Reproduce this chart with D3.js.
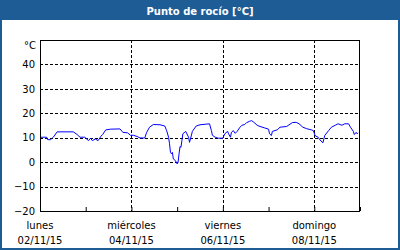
<!DOCTYPE html>
<html>
<head>
<meta charset="utf-8">
<script src="https://cdn.jsdelivr.net/npm/d3@7"></script>
<style>
body { margin: 0; background: #fff; }
text { font-family: "DejaVu Sans", sans-serif; }
</style>
</head>
<body>
<script>
var w = 400;
var h = 250;
var padLeft = 40, padRight = 360, padTop = 40, padBottom = 211;
var blue = "#1e5c95";

// hours after 02/11/15 00:00
var hours = [0, 3.5, 4, 5.5, 7, 9, 17.5, 19.5, 21, 23.5, 25.5, 26.5, 27.5, 29, 30.5, 32, 33, 34.5, 37, 42,
  43.5, 46, 47.5, 49, 51, 52.5, 55, 56, 57.5, 59.5, 63, 65.5, 66.5, 67.5, 68, 68.5, 69, 69.5, 70, 71, 72, 72.5,
  73, 73.5, 74, 74.5, 75, 76.5, 78, 78.5, 79, 80, 82, 84, 89, 90, 90.5, 92, 93.5, 96, 97, 98.5, 99, 100,
  100.5, 101.5, 102.5, 103.5, 105, 106, 107.5, 108.5, 110, 111, 112, 114, 115.5, 118, 120, 120.5, 121.5, 122, 124.5, 126,
  129.5, 132.5, 134.5, 136, 138, 140, 142.5, 143.5, 144.5, 146, 147, 148.5, 149.5, 151.5, 153, 155, 156.5, 158.5, 160, 162,
  163, 164.5, 165, 166, 166.5, 167];
var dewPoint = [10.2, 10.2, 9.2, 9.2, 10.2, 12.4, 12.4, 11.3, 10.2, 10.2, 8.8, 9.8, 8.8, 9.5, 8.8, 10.6, 11.4, 13.2, 13.5, 13.6,
  12.2, 12.0, 11.0, 11.0, 10.5, 9.9, 9.9, 12.2, 14.3, 15.4, 15.3, 14.8, 12.9, 10.2, 7.5, 4.0, 3.4, 4.0, 1.3, 0.7, -0.7, 0,
  3.4, 6.4, 6.1, 8.8, 11.6, 12.6, 10.2, 8.1, 9.5, 12.6, 14.8, 15.3, 15.7, 12.9, 11.0, 10.2, 9.8, 9.8, 11.6, 12.6, 11.6, 10.2,
  12.2, 12.9, 11.8, 12.6, 14.3, 15.1, 15.4, 16.2, 16.7, 17.0, 16.5, 15.1, 14.6, 14.0, 13.5, 11.6, 10.9, 12.6, 13.2, 14.3,
  14.6, 16.2, 16.3, 15.7, 14.3, 13.7, 13.2, 12.9, 10.8, 10.2, 9.1, 7.9, 10.9, 12.9, 14.3, 15.1, 15.7, 15.1, 15.7, 15.7,
  14.3, 12.6, 11.3, 12.2, 11.6, 12.0];
var yTicks = [-20, -10, 0, 10, 20, 30, 40];
var dayNames = ["lunes", "miércoles", "viernes", "domingo"];
var dayDates = ["02/11/15", "04/11/15", "06/11/15", "08/11/15"];

var start = new Date(2015, 10, 2);
var end = new Date(2015, 10, 9);
var parseDay = d3.timeParse("%d/%m/%y");

var svg = d3.select("body").append("svg")
  .attr("width", w)
  .attr("height", h);

svg.append("rect").attr("x", 1).attr("y", 1).attr("width", w - 2).attr("height", h - 2)
  .attr("fill", "#fff").attr("stroke", blue).attr("stroke-width", 2);
svg.append("rect").attr("x", 0).attr("y", 0).attr("width", w).attr("height", 20).attr("fill", blue);
svg.append("text").attr("x", w / 2).attr("y", 15).attr("text-anchor", "middle")
  .attr("fill", "#fff").attr("font-weight", "bold").attr("font-size", "10px")
  .text("Punto de rocío [°C]");

var x = d3.scaleTime().domain([start, end]).range([padLeft, padRight]);
var y = d3.scaleLinear().domain([-20, 50]).range([padBottom, padTop]);

// horizontal grid + labels
var yAxis = d3.axisLeft(y).tickValues(yTicks).tickSize(0).tickPadding(5);
var gy = svg.append("g").attr("transform", "translate(" + padLeft + ",0)").call(yAxis);
gy.select(".domain").remove();
gy.selectAll("text").attr("font-size", "10px").attr("fill", "#000").style("font-family", "DejaVu Sans");

svg.append("g").selectAll("line")
  .data(yTicks.filter(function(d) { return d > -20; }))
  .enter().append("line")
  .attr("x1", padLeft).attr("x2", padRight)
  .attr("y1", function(d) { return Math.round(y(d)) + 0.5; })
  .attr("y2", function(d) { return Math.round(y(d)) + 0.5; })
  .attr("stroke", "#000").attr("stroke-dasharray", "3,2");

svg.append("text").attr("x", 36).attr("y", 49).attr("text-anchor", "end")
  .attr("font-size", "10px").text("°C");

// vertical grid on labelled days
var labelDays = dayDates.map(function(d) { return parseDay(d); });
svg.append("g").selectAll("line")
  .data(labelDays.slice(1))
  .enter().append("line")
  .attr("x1", function(d) { return Math.round(x(d)) + 0.5; })
  .attr("x2", function(d) { return Math.round(x(d)) + 0.5; })
  .attr("y1", padTop).attr("y2", padBottom)
  .attr("stroke", "#000").attr("stroke-dasharray", "3,2");

// daily ticks
var xAxis = d3.axisBottom(x).ticks(d3.timeDay.every(1)).tickSizeInner(-4).tickSizeOuter(0).tickFormat("");
var gx = svg.append("g").attr("transform", "translate(0," + padBottom + ")").call(xAxis);
gx.select(".domain").remove();

// day labels
var lab = svg.append("g").selectAll("g")
  .data(labelDays)
  .enter().append("g")
  .attr("transform", function(d) { return "translate(" + x(d) + ",0)"; });
lab.append("text").attr("y", 229).attr("text-anchor", "middle").attr("font-size", "10px")
  .text(function(d, i) { return dayNames[i]; });
lab.append("text").attr("y", 244).attr("text-anchor", "middle").attr("font-size", "10px")
  .text(function(d, i) { return dayDates[i]; });

// series
var pts = hours.map(function(hr, i) { return [d3.timeMinute.offset(start, hr * 60), dewPoint[i]]; });
var line = d3.line()
  .x(function(d) { return x(d[0]); })
  .y(function(d) { return y(d[1]); });
svg.append("path").datum(pts)
  .attr("d", line)
  .attr("fill", "none")
  .attr("stroke", "#0000ff")
  .attr("stroke-width", 1);

// plot frame
svg.append("rect").attr("x", padLeft + 0.5).attr("y", padTop + 0.5)
  .attr("width", padRight - padLeft - 1).attr("height", padBottom - padTop)
  .attr("fill", "none").attr("stroke", "#000");
</script>
</body>
</html>
